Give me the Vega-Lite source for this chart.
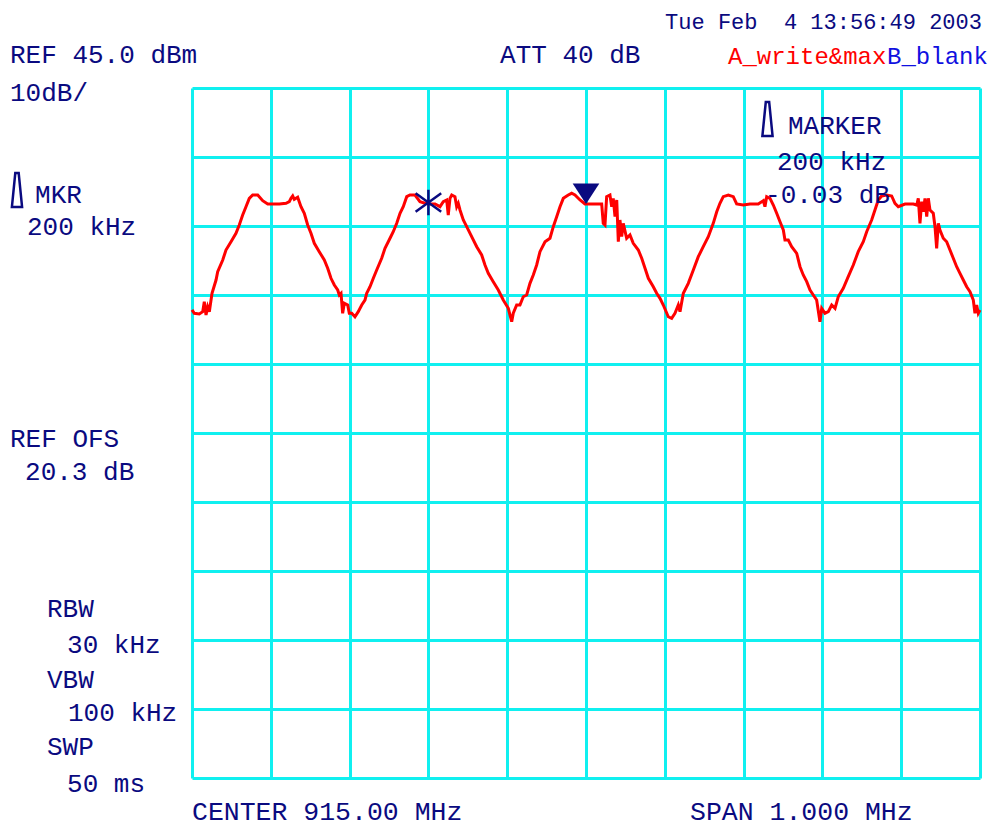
{
  "$schema": "https://vega.github.io/schema/vega-lite/v6.json",
  "width": 788,
  "height": 690,
  "autosize": {"type": "none"},
  "padding": {"left": 192, "top": 88, "right": 12, "bottom": 49},
  "background": "white",
  "config": {"view": {"stroke": null}},
  "datasets": {
    "trace": [
      {"f":914.5,"dBm":12.83},{"f":914.5029,"dBm":12.35},{"f":914.5093,"dBm":12.25},{"f":914.5136,"dBm":12.58},{"f":914.5156,"dBm":14.03},{"f":914.5178,"dBm":12.1},{"f":914.5199,"dBm":13.3},{"f":914.522,"dBm":12.58},{"f":914.5254,"dBm":15.25},{"f":914.5305,"dBm":17.17},{"f":914.5326,"dBm":18.38},{"f":914.539,"dBm":20.07},{"f":914.5431,"dBm":21.52},{"f":914.5495,"dBm":22.72},{"f":914.5558,"dBm":23.94},{"f":914.56,"dBm":25.14},{"f":914.5643,"dBm":26.59},{"f":914.5685,"dBm":27.8},{"f":914.5727,"dBm":29.01},{"f":914.577,"dBm":29.49},{"f":914.5834,"dBm":29.49},{"f":914.5897,"dBm":28.67},{"f":914.5961,"dBm":28.19},{"f":914.6024,"dBm":28.19},{"f":914.6108,"dBm":28.19},{"f":914.6193,"dBm":28.29},{"f":914.6235,"dBm":28.52},{"f":914.6256,"dBm":29.01},{"f":914.6278,"dBm":29.35},{"f":914.6298,"dBm":28.87},{"f":914.6341,"dBm":29.16},{"f":914.6383,"dBm":27.8},{"f":914.6425,"dBm":26.84},{"f":914.6468,"dBm":25.14},{"f":914.651,"dBm":23.94},{"f":914.6552,"dBm":22.49},{"f":914.6615,"dBm":21.28},{"f":914.6679,"dBm":20.07},{"f":914.6722,"dBm":18.87},{"f":914.6764,"dBm":17.42},{"f":914.6806,"dBm":16.45},{"f":914.6849,"dBm":15.72},{"f":914.6869,"dBm":15.0},{"f":914.6891,"dBm":15.25},{"f":914.6912,"dBm":12.35},{"f":914.6933,"dBm":13.8},{"f":914.6976,"dBm":13.55},{"f":914.6996,"dBm":12.35},
      {"f":914.7027,"dBm":12.35},{"f":914.7068,"dBm":11.85},{"f":914.711,"dBm":12.58},{"f":914.7154,"dBm":13.55},{"f":914.7195,"dBm":14.27},{"f":914.7217,"dBm":15.25},{"f":914.7259,"dBm":16.2},{"f":914.7301,"dBm":17.42},{"f":914.7344,"dBm":18.62},{"f":914.7407,"dBm":20.32},{"f":914.7449,"dBm":21.77},{"f":914.7513,"dBm":23.22},{"f":914.7554,"dBm":24.17},{"f":914.7598,"dBm":25.39},{"f":914.764,"dBm":26.84},{"f":914.7681,"dBm":27.8},{"f":914.7725,"dBm":29.25},{"f":914.7766,"dBm":29.49},{"f":914.783,"dBm":29.49},{"f":914.7893,"dBm":28.52},{"f":914.7957,"dBm":28.29},{"f":914.802,"dBm":28.19},{"f":914.8084,"dBm":28.19},{"f":914.8147,"dBm":27.8},{"f":914.8189,"dBm":28.52},{"f":914.8232,"dBm":28.77},{"f":914.8252,"dBm":26.59},{"f":914.8274,"dBm":29.01},{"f":914.8296,"dBm":29.49},{"f":914.8337,"dBm":29.25},{"f":914.8359,"dBm":27.8},{"f":914.8379,"dBm":28.29},{"f":914.8401,"dBm":27.32},{"f":914.8443,"dBm":25.87},{"f":914.8486,"dBm":24.9},{"f":914.8549,"dBm":23.45},{"f":914.8613,"dBm":22.0},{"f":914.8676,"dBm":20.8},{"f":914.8718,"dBm":19.35},{"f":914.876,"dBm":18.14},{"f":914.8823,"dBm":16.93},{"f":914.8887,"dBm":15.72},{"f":914.895,"dBm":14.27},{"f":914.9014,"dBm":13.07},
      {"f":914.9057,"dBm":11.13},{"f":914.9077,"dBm":12.35},{"f":914.912,"dBm":13.55},{"f":914.9162,"dBm":13.55},{"f":914.9204,"dBm":14.75},{"f":914.9247,"dBm":15.0},{"f":914.9289,"dBm":16.69},{"f":914.9331,"dBm":17.9},{"f":914.9374,"dBm":19.35},{"f":914.9416,"dBm":21.28},{"f":914.948,"dBm":22.72},{"f":914.9543,"dBm":23.22},{"f":914.9585,"dBm":24.9},{"f":914.9628,"dBm":26.35},{"f":914.967,"dBm":27.8},{"f":914.9712,"dBm":29.01},{"f":914.9775,"dBm":29.49},{"f":914.9818,"dBm":29.74},{"f":914.986,"dBm":29.49},{"f":914.9924,"dBm":28.77},{"f":914.9987,"dBm":28.19},{"f":915.0072,"dBm":28.19},{"f":915.0199,"dBm":28.19},{"f":915.0219,"dBm":25.39},{"f":915.0241,"dBm":25.14},{"f":915.0262,"dBm":29.25},{"f":915.0304,"dBm":29.49},{"f":915.0326,"dBm":27.8},{"f":915.0346,"dBm":29.01},{"f":915.0368,"dBm":26.35},{"f":915.039,"dBm":28.77},{"f":915.041,"dBm":22.72},{"f":915.0431,"dBm":25.87},{"f":915.0453,"dBm":23.45},{"f":915.0473,"dBm":25.39},{"f":915.0516,"dBm":23.22},{"f":915.0558,"dBm":23.7},{"f":915.06,"dBm":22.49},{"f":915.0664,"dBm":21.52},{"f":915.0707,"dBm":20.32},{"f":915.0749,"dBm":18.87},{"f":915.0791,"dBm":17.42},{"f":915.0854,"dBm":16.2},{"f":915.0897,"dBm":15.25},{"f":915.0939,"dBm":14.52},{"f":915.0981,"dBm":13.55},{"f":915.1044,"dBm":11.85},
      {"f":915.1087,"dBm":11.62},{"f":915.1129,"dBm":12.35},{"f":915.1171,"dBm":13.55},{"f":915.1193,"dBm":12.58},{"f":915.1235,"dBm":15.25},{"f":915.1298,"dBm":16.69},{"f":915.1362,"dBm":18.62},{"f":915.1425,"dBm":20.55},{"f":915.1488,"dBm":22.0},{"f":915.1552,"dBm":23.45},{"f":915.1615,"dBm":25.39},{"f":915.1659,"dBm":27.07},{"f":915.17,"dBm":28.29},{"f":915.1742,"dBm":29.25},{"f":915.1806,"dBm":29.49},{"f":915.1869,"dBm":29.25},{"f":915.1912,"dBm":28.19},{"f":915.1996,"dBm":28.04},{"f":915.2081,"dBm":28.19},{"f":915.2186,"dBm":28.19},{"f":915.225,"dBm":28.67},{"f":915.2271,"dBm":27.8},{"f":915.2293,"dBm":29.25},{"f":915.2335,"dBm":29.01},{"f":915.2377,"dBm":28.04},{"f":915.242,"dBm":26.84},{"f":915.2462,"dBm":25.62},{"f":915.2504,"dBm":24.42},{"f":915.2525,"dBm":22.97},{"f":915.2567,"dBm":22.97},{"f":915.261,"dBm":22.0},{"f":915.2674,"dBm":21.04},{"f":915.2716,"dBm":19.1},{"f":915.2757,"dBm":17.9},{"f":915.2801,"dBm":16.93},{"f":915.2843,"dBm":15.72},{"f":915.2884,"dBm":15.0},{"f":915.2927,"dBm":14.27},{"f":915.2969,"dBm":11.13},{"f":915.2991,"dBm":13.07},{"f":915.3033,"dBm":12.35},{"f":915.3075,"dBm":12.58},
      {"f":915.3118,"dBm":13.55},{"f":915.316,"dBm":13.07},{"f":915.3201,"dBm":14.75},{"f":915.3265,"dBm":15.97},{"f":915.3328,"dBm":17.65},{"f":915.3392,"dBm":19.35},{"f":915.3455,"dBm":21.28},{"f":915.3519,"dBm":22.72},{"f":915.3562,"dBm":24.17},{"f":915.3625,"dBm":25.87},{"f":915.3667,"dBm":27.32},{"f":915.3709,"dBm":28.77},{"f":915.3752,"dBm":29.35},{"f":915.3816,"dBm":29.49},{"f":915.3879,"dBm":29.35},{"f":915.3921,"dBm":28.29},{"f":915.3963,"dBm":27.8},{"f":915.4048,"dBm":28.19},{"f":915.4154,"dBm":28.19},{"f":915.4197,"dBm":28.04},{"f":915.4217,"dBm":29.01},{"f":915.4238,"dBm":25.39},{"f":915.426,"dBm":28.52},{"f":915.428,"dBm":27.07},{"f":915.4302,"dBm":29.01},{"f":915.4324,"dBm":26.35},{"f":915.4344,"dBm":29.01},{"f":915.4365,"dBm":27.32},{"f":915.4407,"dBm":26.84},{"f":915.4429,"dBm":24.9},{"f":915.445,"dBm":21.77},{"f":915.4471,"dBm":25.39},{"f":915.4492,"dBm":24.42},{"f":915.4534,"dBm":23.22},{"f":915.4577,"dBm":22.72},{"f":915.4619,"dBm":21.52},{"f":915.4661,"dBm":20.32},{"f":915.4704,"dBm":19.1},{"f":915.4746,"dBm":18.14},{"f":915.4788,"dBm":17.17},{"f":915.4831,"dBm":16.2},{"f":915.4873,"dBm":15.48},{"f":915.4915,"dBm":14.27},{"f":915.4936,"dBm":12.35},{"f":915.4958,"dBm":13.55},{"f":915.4978,"dBm":12.35},{"f":915.5,"dBm":12.83}
    ],
    "labels": [
      {"label":"REF 45.0 dBm","f":914.269,"dBm":48.62},
      {"label":"10dB/","f":914.269,"dBm":43.12},
      {"label":"ATT 40 dB","f":914.8909,"dBm":48.62},
      {"label":"MARKER","f":915.2563,"dBm":38.33},
      {"label":"200 kHz","f":915.2424,"dBm":33.12},
      {"label":"-0.03 dB","f":915.2272,"dBm":28.33},
      {"label":"MKR","f":914.3008,"dBm":28.33},
      {"label":"200 kHz","f":914.2906,"dBm":23.7},
      {"label":"REF OFS","f":914.269,"dBm":-7.03},
      {"label":"20.3 dB","f":914.2881,"dBm":-11.81},
      {"label":"RBW","f":914.316,"dBm":-31.67},
      {"label":"30 kHz","f":914.3414,"dBm":-36.88},
      {"label":"VBW","f":914.316,"dBm":-41.96},
      {"label":"100 kHz","f":914.3426,"dBm":-46.74},
      {"label":"SWP","f":914.316,"dBm":-51.67},
      {"label":"50 ms","f":914.3414,"dBm":-57.03}
    ],
    "footer": [
      {"label":"CENTER 915.00 MHz","f":914.5,"dBm":-61.96},
      {"label":"SPAN 1.000 MHz","f":915.132,"dBm":-61.96}
    ],
    "icons": [
      {"f":914.2779,"dBm":30.22},
      {"f":915.2303,"dBm":40.51}
    ]
  },
  "encoding": {
    "x": {"field":"f","type":"quantitative","scale":{"domain":[914.5,915.5],"nice":false,"zero":false},
      "axis":{"values":[914.5,914.6,914.7,914.8,914.9,915.0,915.1,915.2,915.3,915.4,915.5],"grid":true,"gridColor":"#10f0f0","gridWidth":3,"gridOpacity":1,"labels":false,"ticks":false,"domain":false,"title":null}},
    "y": {"field":"dBm","type":"quantitative","scale":{"domain":[-55,45],"nice":false,"zero":false},
      "axis":{"values":[-55,-45,-35,-25,-15,-5,5,15,25,35,45],"grid":true,"gridColor":"#10f0f0","gridWidth":3,"gridOpacity":1,"labels":false,"ticks":false,"domain":false,"title":null}}
  },
  "layer": [
    {"data":{"name":"trace"},"mark":{"type":"line","color":"#ff0000","strokeWidth":3}},
    {"data":{"values":[{"f":914.8,"dBm":28.4}]},"mark":{"type":"point","shape":"M0,-1L0,1M-1,-0.72L1,0.72M-1,0.72L1,-0.72","size":655,"filled":false,"stroke":"#0a0a80","strokeWidth":2.5,"opacity":1}},
    {"data":{"values":[{"f":915.0,"dBm":28.2}]},"mark":{"type":"point","shape":"M-0.65,-1L0.65,-1L0,0Z","size":1681,"filled":true,"fill":"#0a0a80","strokeWidth":0,"opacity":1}},
    {"data":{"name":"icons"},"mark":{"type":"point","shape":"M-0.1,-1L0.1,-1L0.3,1L-0.3,1Z","size":1150,"filled":false,"stroke":"#0a0a80","strokeWidth":2.5,"opacity":1}},
    {"data":{"name":"labels"},"mark":{"type":"text","align":"left","baseline":"alphabetic","font":"Liberation Mono","fontSize":26,"color":"#0a0a80"},"encoding":{"text":{"field":"label"}}},
    {"data":{"name":"footer"},"mark":{"type":"text","align":"left","baseline":"bottom","font":"Liberation Mono","fontSize":26.5,"color":"#0a0a80"},"encoding":{"text":{"field":"label"}}},
    {"data":{"values":[{"label":"Tue Feb \u00a04 13:56:49 2003","f":915.5025,"dBm":53.55}]},"mark":{"type":"text","align":"right","baseline":"alphabetic","font":"Liberation Mono","fontSize":22,"color":"#0a0a80"},"encoding":{"text":{"field":"label"}}},
    {"data":{"values":[{"label":"A_write&max","f":915.1802,"dBm":48.48}]},"mark":{"type":"text","align":"left","baseline":"alphabetic","font":"Liberation Mono","fontSize":24,"color":"#ff0000"},"encoding":{"text":{"field":"label"}}},
    {"data":{"values":[{"label":"B_blank","f":915.382,"dBm":48.48}]},"mark":{"type":"text","align":"left","baseline":"alphabetic","font":"Liberation Mono","fontSize":24,"color":"#1010e0"},"encoding":{"text":{"field":"label"}}}
  ]
}
